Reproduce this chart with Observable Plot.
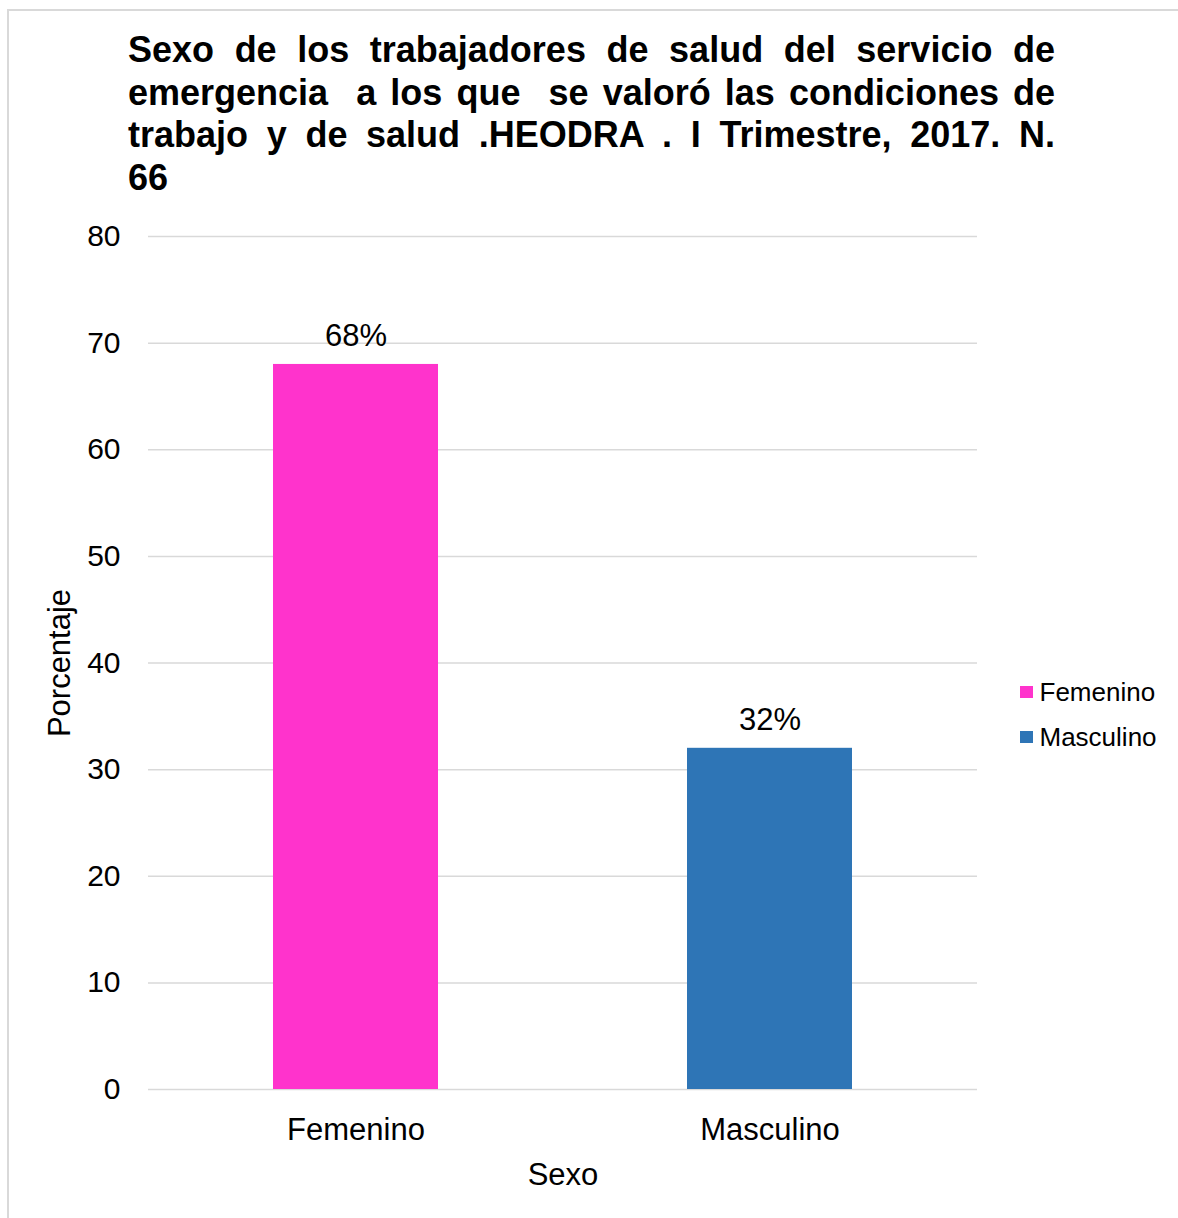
<!DOCTYPE html>
<html>
<head>
<meta charset="utf-8">
<script src="https://cdn.jsdelivr.net/npm/d3@7"></script>
<script src="https://cdn.jsdelivr.net/npm/@observablehq/plot@0.6"></script>
<style>
  html, body { margin: 0; padding: 0; background: #fff; overflow: hidden; }
  body { width: 1178px; height: 1218px; position: relative; font-family: "Liberation Sans", Arial, sans-serif; }
  #frame { position: absolute; left: 7px; top: 9px; width: 1200px; height: 1260px; border: 2px solid #d9d9d9; box-sizing: border-box; pointer-events: none; }
  #title { position: relative; margin-left: 128px; width: 927px; padding-top: 29px; height: 171px; font-weight: bold; font-size: 36px; line-height: 42.5px; color: #000; }
  #title .j { text-align: justify; text-align-last: justify; white-space: pre-wrap; }
  #title .l { text-align: left; }
  #chart { position: relative; }
  #legend { position: absolute; left: 1020px; top: 0; font-size: 26px; color: #000; }
  #legend .item { position: absolute; left: 0; white-space: nowrap; display: flex; align-items: center; }
  #legend .sw { width: 12.5px; height: 12.5px; margin-right: 7px; }
</style>
</head>
<body>
<div id="frame"></div>
<div id="title"></div>
<div id="chart"></div>
<div id="legend"></div>
<script>
const titleLines = [
  "Sexo de los trabajadores de salud del servicio de",
  "emergencia  a los que  se valoró las condiciones de",
  "trabajo y de salud .HEODRA . I Trimestre, 2017. N.",
  "66"
];
const categories = ["Femenino", "Masculino"];
const values = [68, 32];
const valueLabels = ["68%", "32%"];
const colors = ["#FF33CC", "#2E75B6"];
const yTicks = [0, 10, 20, 30, 40, 50, 60, 70, 80];
const xAxisTitle = "Sexo";
const yAxisTitle = "Porcentaje";

// Title
const titleEl = document.getElementById("title");
titleLines.forEach((t, i) => {
  const d = document.createElement("div");
  d.className = i < titleLines.length - 1 ? "j" : "l";
  d.textContent = t;
  titleEl.appendChild(d);
});

const data = categories.map((c, i) => ({cat: c, value: values[i], label: valueLabels[i]}));

const chart = Plot.plot({
  width: 1178,
  height: 1018,
  marginTop: 36,
  marginBottom: 129,
  marginLeft: 148,
  marginRight: 201,
  style: {fontFamily: "'Liberation Sans', Arial, sans-serif", color: "#000", background: "transparent"},
  x: {domain: categories, paddingInner: 0.602, paddingOuter: 0.301},
  y: {domain: [0, 80]},
  color: {domain: categories, range: colors},
  marks: [
    Plot.gridY(yTicks, {stroke: "#d9d9d9", strokeOpacity: 1, strokeWidth: 1.5}),
    Plot.barY(data, {x: "cat", y: "value", fill: "cat"}),
    Plot.text(data, {x: "cat", y: "value", text: "label", dy: -18, lineAnchor: "bottom", fontSize: 31, fill: "#000"}),
    Plot.axisY(yTicks, {tickSize: 0, tickPadding: 28, fontSize: 30, label: null, color: "#000"}),
    Plot.axisX({tickSize: 0, tickPadding: 28, fontSize: 31, label: null, color: "#000"}),
    Plot.text([xAxisTitle], {frameAnchor: "bottom", dy: 95, lineAnchor: "bottom", fontSize: 31, fill: "#000"}),
    Plot.text([yAxisTitle], {frameAnchor: "left", textAnchor: "middle", dx: -88, rotate: -90, lineAnchor: "middle", fontSize: 31, fill: "#000"})
  ]
});
document.getElementById("chart").appendChild(chart);

// Legend
const legendEl = document.getElementById("legend");
const legendCenters = [692, 737];
categories.forEach((c, i) => {
  const item = document.createElement("div");
  item.className = "item";
  item.style.top = (legendCenters[i] - 16) + "px";
  item.style.height = "32px";
  const sw = document.createElement("div");
  sw.className = "sw";
  sw.style.background = colors[i];
  const tx = document.createElement("span");
  tx.textContent = c;
  item.appendChild(sw);
  item.appendChild(tx);
  legendEl.appendChild(item);
});
</script>
</body>
</html>
